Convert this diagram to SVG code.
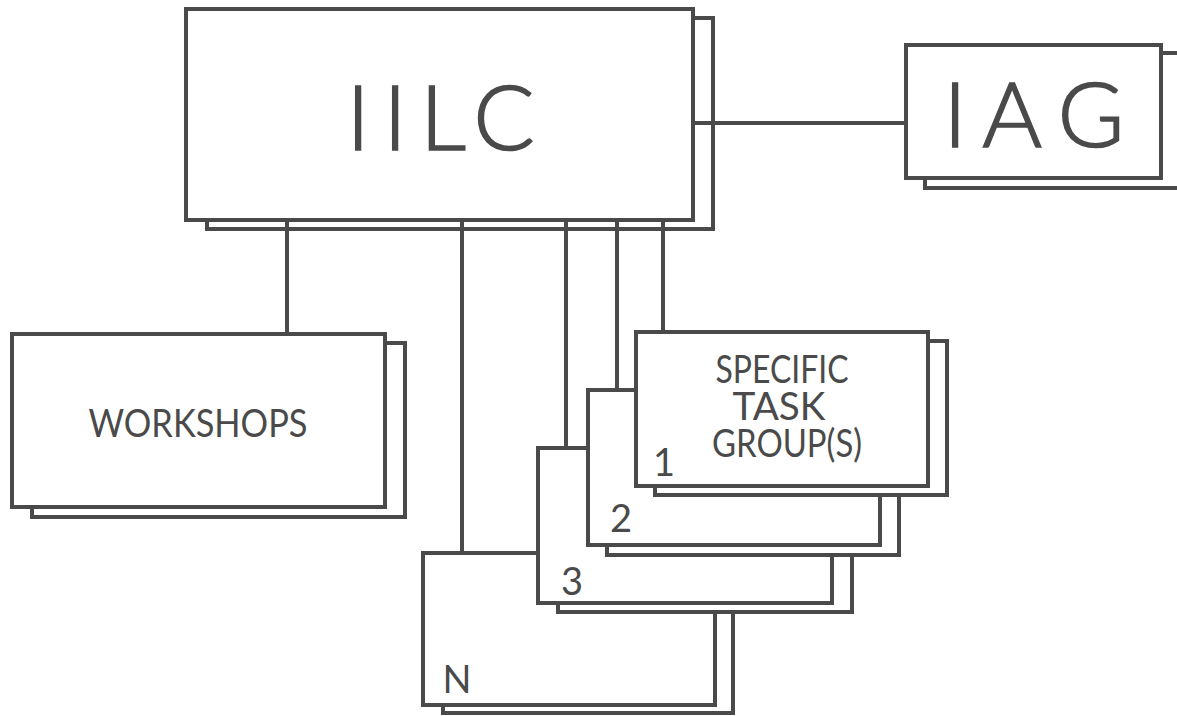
<svg xmlns="http://www.w3.org/2000/svg" width="1177" height="716" viewBox="0 0 1177 716">
<style>
.bx{fill:#fff;stroke:#4a4a4a;stroke-width:4}
.cn{stroke:#4a4a4a;stroke-width:4;fill:none}
.big{font-family:Lato,"Open Sans","Liberation Sans",sans-serif;font-size:91px;font-weight:300;fill:#4a4a4a;stroke:#4a4a4a;stroke-width:1.6;text-anchor:middle}
.lbl{font-family:Lato,"Open Sans","Liberation Sans",sans-serif;font-size:38px;fill:#4a4a4a;text-anchor:middle}
.num{font-family:Lato,"Open Sans","Liberation Sans",sans-serif;font-size:38px;fill:#4a4a4a;text-anchor:middle}
</style>
<rect width="1177" height="716" fill="#fff"/>
<g id="iilc">
<rect class="bx" x="207" y="18" width="506" height="211"/>
<rect class="bx" x="186" y="9" width="507" height="211"/>
<text class="big" x="358 395 443 504" y="150">IILC</text>
</g>
<g id="iag">
<rect class="bx" x="925" y="53" width="255" height="135"/>
<rect class="bx" x="906" y="45" width="255" height="133"/>
<text class="big" x="955 1012 1091" y="147">IAG</text>
</g>
<g id="workshops">
<rect class="bx" x="32" y="343" width="373" height="174"/>
<rect class="bx" x="12" y="334" width="373" height="173"/>
<text class="lbl" x="198" y="437" font-size="41" textLength="219" lengthAdjust="spacingAndGlyphs">WORKSHOPS</text>
</g>
<g id="group-n">
<rect class="bx" x="443" y="562" width="290" height="151"/>
<rect class="bx" x="423" y="553" width="292" height="152"/>
<text class="num" x="457" y="693">N</text>
</g>
<g id="group-3">
<rect class="bx" x="558" y="457" width="294" height="155"/>
<rect class="bx" x="538" y="448" width="294" height="155"/>
<text class="num" x="572" y="595">3</text>
</g>
<g id="group-2">
<rect class="bx" x="607" y="399" width="292" height="156"/>
<rect class="bx" x="588" y="390" width="292" height="155"/>
<text class="num" x="621" y="532">2</text>
</g>
<g id="group-1">
<rect class="bx" x="655" y="341" width="292" height="154"/>
<rect class="bx" x="636" y="332" width="292" height="154"/>
<text class="num" x="664" y="476">1</text>
<text class="lbl"><tspan x="782" y="383" textLength="133" lengthAdjust="spacingAndGlyphs">SPECIFIC</tspan><tspan x="779" y="420" textLength="93" lengthAdjust="spacingAndGlyphs">TASK</tspan><tspan x="787" y="457" textLength="150" lengthAdjust="spacingAndGlyphs">GROUP(S)</tspan></text>
</g>
<g id="connectors">
<line class="cn" x1="693" y1="123" x2="906" y2="123"/>
<line class="cn" x1="287" y1="220" x2="287" y2="334"/>
<line class="cn" x1="462" y1="220" x2="462" y2="553"/>
<line class="cn" x1="566" y1="220" x2="566" y2="448"/>
<line class="cn" x1="617" y1="220" x2="617" y2="390"/>
<line class="cn" x1="663" y1="220" x2="663" y2="332"/>
</g>
</svg>
